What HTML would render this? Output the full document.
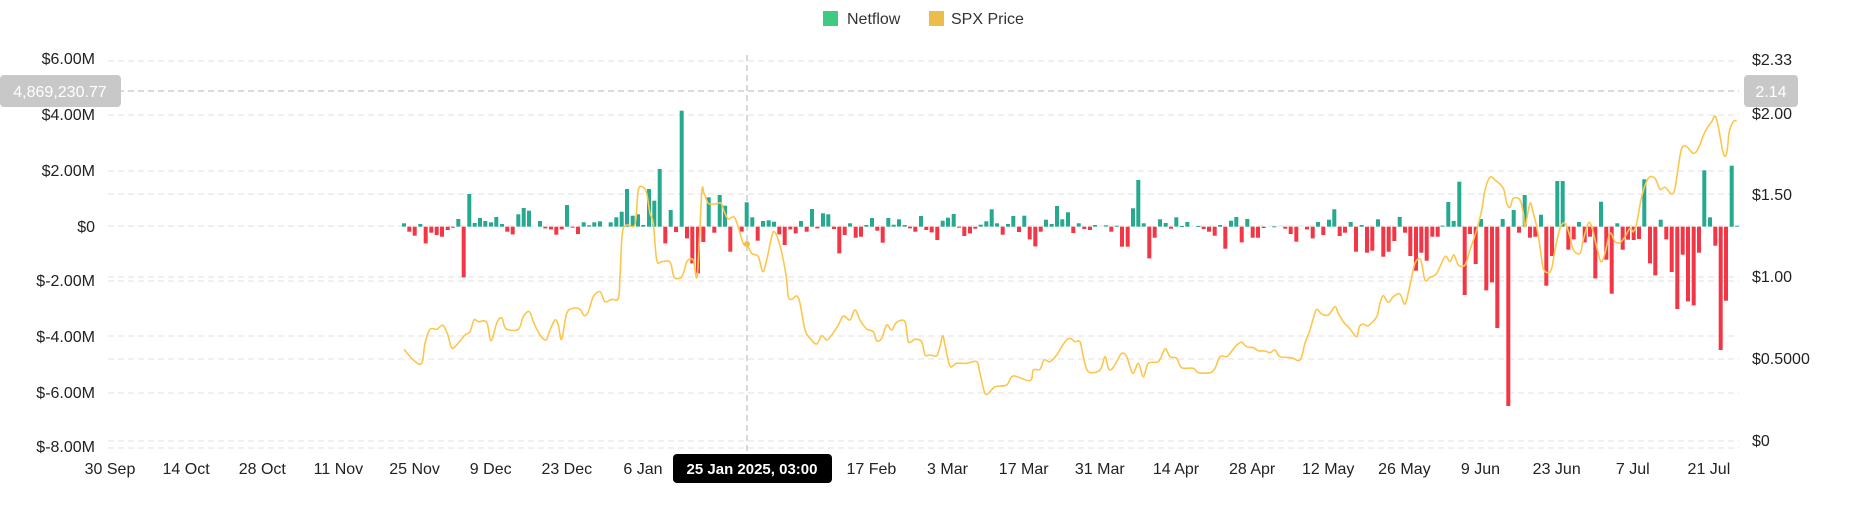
<!DOCTYPE html>
<html><head><meta charset="utf-8"><style>
html,body{margin:0;padding:0;background:#fff;}
svg{display:block;font-family:"Liberation Sans",sans-serif;}
</style></head><body>
<svg id="c" width="1852" height="525" xmlns="http://www.w3.org/2000/svg">
<g id="grid" stroke="#e6e6e6" stroke-width="1.3" stroke-dasharray="6,4"></g>
<line x1="108" y1="91" x2="1739" y2="91" stroke="#c4c4c4" stroke-width="1.3" stroke-dasharray="6,4"/>
<line x1="747" y1="55" x2="747" y2="455" stroke="#c4c4c4" stroke-width="1.3" stroke-dasharray="6,4"/>
<g id="bars"></g>
<path id="line" fill="none" stroke="#fcc64d" stroke-width="1.6"/>
<circle cx="747" cy="244" r="3" fill="#f0c04a"/>
<g font-size="16" fill="#222" text-anchor="end">
<text x="95" y="64">$6.00M</text><text x="95" y="120">$4.00M</text><text x="95" y="176">$2.00M</text><text x="95" y="232">$0</text>
<text x="95" y="286">$-2.00M</text><text x="95" y="342">$-4.00M</text><text x="95" y="398">$-6.00M</text><text x="95" y="452">$-8.00M</text>
</g>
<g font-size="16" fill="#222">
<text x="1752" y="65">$2.33</text><text x="1752" y="119">$2.00</text><text x="1752" y="200">$1.50</text><text x="1752" y="282">$1.00</text><text x="1752" y="364">$0.5000</text><text x="1752" y="446">$0</text>
</g>
<g font-size="16" fill="#222" text-anchor="middle" id="xl"></g>
<rect x="0" y="75" width="121" height="32" rx="4" fill="#c8c8c8"/>
<text x="60" y="97" font-size="16" fill="#fff" text-anchor="middle">4,869,230.77</text>
<rect x="1744" y="75" width="54" height="32" rx="4" fill="#c8c8c8"/>
<text x="1771" y="97" font-size="16" fill="#fff" text-anchor="middle">2.14</text>
<rect x="673" y="454" width="159" height="29" rx="4" fill="#000"/>
<text x="752" y="474" font-size="15" font-weight="bold" fill="#fff" text-anchor="middle">25 Jan 2025, 03:00</text>
<rect x="823" y="11" width="15" height="15" fill="#3ecb81"/>
<text x="847" y="24" font-size="16" fill="#333">Netflow</text>
<rect x="929" y="11" width="15" height="15" fill="#ecbd4b"/>
<text x="951" y="24" font-size="16" fill="#333">SPX Price</text>
</svg>
<script>
var NS="http://www.w3.org/2000/svg";
function el(t,a,p){var e=document.createElementNS(NS,t);for(var k in a)e.setAttribute(k,a[k]);p.appendChild(e);return e;}
var g=document.getElementById('grid');
[61,115,171,194,226,277,281,336,359,393,441,448].forEach(function(y){el('line',{x1:108,y1:y,x2:1739,y2:y},g);});
var xl=document.getElementById('xl');
var labs=["30 Sep","14 Oct","28 Oct","11 Nov","25 Nov","9 Dec","23 Dec","6 Jan","","","17 Feb","3 Mar","17 Mar","31 Mar","14 Apr","28 Apr","12 May","26 May","9 Jun","23 Jun","7 Jul","21 Jul"];
labs.forEach(function(s,i){if(!s)return;var t=el('text',{x:(110+i*76.14).toFixed(1),y:474},xl);t.textContent=s;});
var Z=410;
var bars=[
[390,[[42,400],[58,425],[74,437],[91,402],[107,460],[124,428],[140,435],[156,440],[173,420],[189,413],[205,387],[221,562],[238,312],[254,399],[270,384],[286,393],[303,397],[319,381],[336,402],[352,425],[368,433],[385,373],[401,354],[417,362],[450,393],[466,415],[483,418],[499,434],[515,418],[531,345],[548,413],[564,432],[581,397],[597,406],[613,397],[630,394],[662,397],[679,382],[695,365],[711,297],[728,377],[744,373],[760,405],[777,297],[793,332],[809,237],[826,460],[842,360],[858,426],[875,62],[891,445],[907,520],[924,550],[940,456],[956,322],[973,428],[989,315],[1005,347],[1021,485]]],
[740,[[5,425],[20,337],[37,382],[53,452],[69,393],[86,391],[102,395],[118,433],[134,465],[151,418],[167,430],[183,393],[200,425],[216,357],[232,415],[249,370],[265,373],[282,417],[298,490],[314,435],[330,400],[347,443],[363,440],[379,405],[396,384],[412,422],[428,458],[445,384],[461,404],[477,388],[494,405],[510,415],[526,425],[543,378],[559,420],[575,427],[592,450],[608,392],[624,383],[641,372],[657,413],[673,438],[690,430],[706,416],[722,404],[739,394],[755,358],[771,400],[788,434],[804,402],[820,378],[837,426],[853,377],[869,448],[886,469],[902,425],[918,389],[935,402],[951,348],[967,388],[984,367],[1000,429],[1016,400],[1033,417]]],
[1090,[[0,420],[15,405],[48,406],[64,425],[80,407],[96,470],[113,470],[129,355],[145,270],[161,400],[178,505],[194,443],[210,388],[227,399],[243,416],[259,382],[276,408],[292,396],[325,408],[341,417],[357,425],[374,437],[390,405],[406,476],[423,392],[439,381],[455,457],[472,387],[488,443],[504,443],[521,414],[553,409],[586,416],[602,432],[619,455],[651,418],[668,445],[684,396],[700,435],[717,389],[733,358],[749,438],[765,428],[782,396],[798,485],[815,405],[831,488],[847,482],[864,388],[880,500],[896,485],[913,453],[929,381],[945,428],[961,498],[978,542],[994,488],[1010,512],[1027,440],[1043,440]]],
[1440,[[8,407],[25,336],[41,393],[58,275],[74,615],[90,432],[107,522],[123,387],[139,601],[156,577],[172,714],[188,387],[205,948],[221,360],[237,428],[254,315],[270,443],[286,440],[303,374],[319,587],[336,498],[352,273],[368,273],[385,479],[401,448],[417,396],[434,457],[450,440],[466,565],[483,335],[499,509],[515,611],[532,400],[548,479],[564,449],[581,450],[597,447],[613,268],[630,520],[646,556],[662,389],[679,448],[695,546],[712,657],[728,494],[744,634],[761,646],[777,488],[793,241],[810,382],[826,467],[842,780],[858,632],[875,227],[891,407]]]
];
var bg=document.getElementById('bars');
bars.forEach(function(s){var o=s[0];s[1].forEach(function(b){var x=o+b[0]/3-2,y=b[1];var up=y<Z;var t=90+Math.min(y,Z)/3,h=Math.abs(y-Z)/3;if(h<1)h=1;el('rect',{x:x.toFixed(1),y:t.toFixed(1),width:4,height:h.toFixed(1),fill:up?'#26a98f':'#f23645'},bg);});});
var lines=[
[390,[[42,778],[70,810],[95,820],[105,760],[120,718],[140,718],[158,706],[172,730],[185,773],[200,765],[225,735],[240,725],[252,690],[265,695],[290,697],[303,752],[320,700],[335,683],[348,716],[385,718],[400,680],[418,665],[432,700],[450,735],[468,750],[480,720],[495,690],[505,705],[515,748],[530,670],[550,655],[570,658],[583,677],[595,665],[610,620],[630,605],[645,635],[665,628],[685,625],[690,560],[697,430],[710,405],[735,403],[745,300],[760,292],[770,310],[780,370],[790,400],[800,510],[815,515],[840,516],[852,560],[870,565],[880,550],[892,513],[910,510],[922,555],[935,310],[942,310],[955,340],[975,342],[993,340],[1003,365],[1015,387],[1035,385]]],
[740,[[10,461],[20,462],[35,490],[55,500],[68,545],[80,510],[95,440],[103,425],[115,450],[130,510],[140,570],[145,620],[155,628],[170,618],[180,640],[195,720],[210,745],[230,762],[245,737],[260,750],[275,735],[295,705],[310,678],[330,690],[345,660],[360,690],[380,717],[400,725],[410,752],[425,745],[440,705],[455,720],[470,697],[495,695],[505,755],[525,748],[545,755],[555,795],[570,795],[590,797],[600,770],[608,737],[615,765],[630,828],[650,820],[680,820],[710,815],[720,850],[735,910],[750,905],[765,890],[800,885],[820,858],[870,872],[880,840],[900,838],[912,810],[930,815],[950,795],[975,755],[990,745],[1005,755],[1020,755],[1030,800],[1045,845]]],
[1090,[[30,840],[45,800],[55,835],[65,838],[80,815],[95,790],[110,800],[128,850],[145,820],[160,860],[175,820],[205,815],[220,785],[228,777],[240,800],[260,805],[275,833],[310,835],[325,848],[360,848],[375,835],[390,800],[410,800],[420,790],[440,765],[455,757],[470,770],[490,773],[505,782],[525,783],[540,788],[555,780],[570,800],[605,803],[625,812],[635,800],[645,760],[660,720],[670,685],[680,658],[695,672],[715,675],[735,650],[745,670],[760,695],[780,717],[800,740],[808,710],[820,702],[835,707],[860,680],[870,640],[880,617],[895,637],[910,620],[930,612],[945,642],[960,585],[975,520],[992,510],[1005,570],[1020,562],[1040,550]]],
[1440,[[15,500],[30,515],[42,495],[55,525],[75,525],[90,480],[110,420],[125,360],[135,300],[150,262],[165,270],[190,295],[200,340],[210,352],[220,325],[240,330],[250,370],[255,410],[270,340],[280,370],[290,410],[300,470],[310,535],[325,548],[335,535],[345,480],[360,415],[375,400],[390,440],[400,480],[420,490],[430,450],[445,400],[455,410],[470,470],[483,515],[495,490],[510,430],[525,455],[540,458],[555,440],[570,415],[580,425],[590,400],[605,320],[625,265],[645,265],[660,298],[675,292],[695,312],[705,295],[715,230],[725,175],[740,170],[760,190],[775,175],[795,125],[815,95],[825,78],[835,110],[850,190],[860,190],[868,125],[880,95],[890,92]]]
];
var P=[];lines.forEach(function(s){s[1].forEach(function(p){P.push([s[0]+p[0]/3,90+p[1]/3]);});});
var d="M"+P[0][0].toFixed(1)+","+P[0][1].toFixed(1);
for(var i=0;i<P.length-1;i++){var p0=P[i-1]||P[i],p1=P[i],p2=P[i+1],p3=P[i+2]||p2;
var c1=[p1[0]+(p2[0]-p0[0])/6,p1[1]+(p2[1]-p0[1])/6],c2=[p2[0]-(p3[0]-p1[0])/6,p2[1]-(p3[1]-p1[1])/6];
d+="C"+c1[0].toFixed(1)+","+c1[1].toFixed(1)+" "+c2[0].toFixed(1)+","+c2[1].toFixed(1)+" "+p2[0].toFixed(1)+","+p2[1].toFixed(1);}
document.getElementById('line').setAttribute('d',d);
</script>
</body></html>
